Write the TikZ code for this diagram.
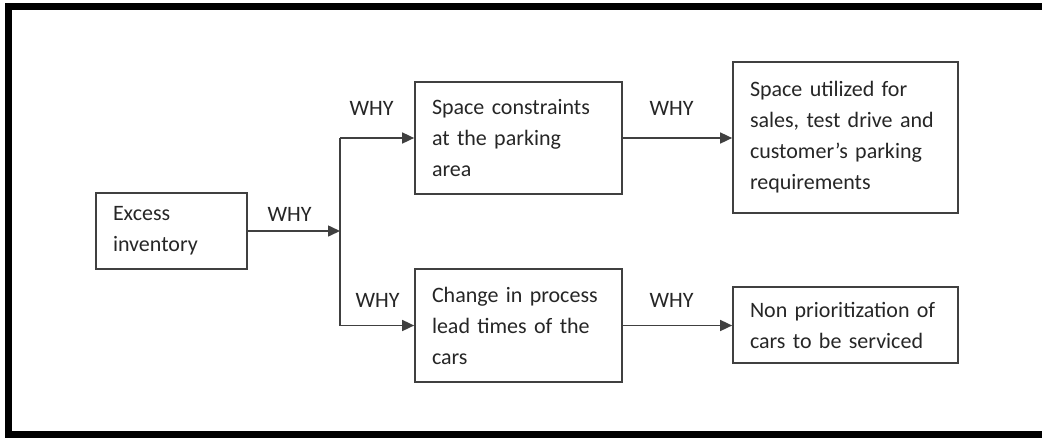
\documentclass[tikz,border=0pt]{standalone}
\usepackage{fontspec}
\setmainfont{Carlito}
\usetikzlibrary{arrows.meta}
\definecolor{txt}{HTML}{262626}
\definecolor{ln}{HTML}{404040}
\begin{document}
\begin{tikzpicture}[x=1pt,y=-1pt,
  box/.style={draw=ln,line width=1.7pt,inner xsep=17pt,inner ysep=0pt,align=left,
    text=txt,font=\fontsize{22}{31}\selectfont,anchor=center},
  why/.style={inner sep=0pt,text=txt,font=\fontsize{22}{26}\selectfont},
  conn/.style={draw=ln,line width=1.6pt},
  arr/.style={conn,-{Triangle[length=12pt,width=11pt]}}]
\useasboundingbox (0,0) rectangle (1042,437);
\clip (0,0) rectangle (1042,437);
\draw[line width=7pt] (8,6) rectangle (1060,434);

\node[box,text width=117pt,minimum width=151pt,minimum height=76pt] (ex) at (171.5,231)
  {\mbox{Excess}\\\mbox{inventory}};
\node[box,text width=173pt,minimum width=207pt,minimum height=112pt] (sc) at (518.5,138)
  {\mbox{Space constraints}\\\mbox{at the parking}\\\mbox{area}};
\node[box,text width=173pt,minimum width=207pt,minimum height=113pt] (ch) at (518.5,325.5)
  {\mbox{Change in process}\\\mbox{lead times of the}\\\mbox{cars}};
\node[box,text width=191pt,minimum width=225pt,minimum height=151pt] (su) at (845.5,137.5)
  {\mbox{Space utilized for}\\\mbox{sales, test drive and}\\\mbox{customer’s parking}\\\mbox{requirements}};
\node[box,text width=191pt,minimum width=225pt,minimum height=76pt] (np) at (845.5,325)
  {\mbox{Non prioritization of}\\\mbox{cars to be serviced}};

\coordinate (j) at (340,231);
\coordinate (jt) at (340,138);
\coordinate (jb) at (340,325.5);

\draw[conn] (jt) -- (jb);
\draw[arr] (ex.east) -- (j);
\draw[arr] (jt) -- (sc.west);
\draw[arr] (jb) -- (ch.west);
\draw[arr] (sc.east) -- (sc.east -| su.west);
\draw[arr] (ch.east) -- (ch.east -| np.west);

\node[why] (w1) at (289.5,214.5) {WHY};
\node[why] (w2) at (371.5,108.5) {WHY};
\node[why] (w3) at (377.5,300) {WHY};
\node[why] (w4) at (671.5,108.5) {WHY};
\node[why] (w5) at (671.5,300) {WHY};
\end{tikzpicture}
\end{document}
